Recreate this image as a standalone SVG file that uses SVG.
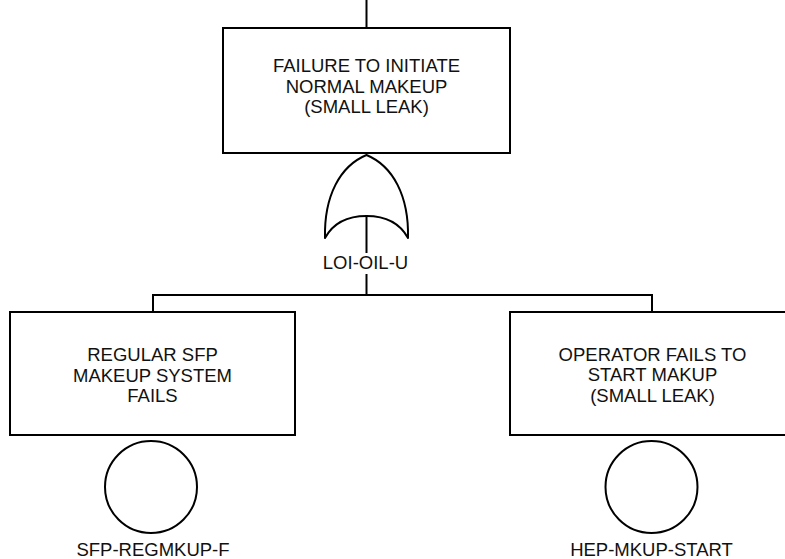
<svg xmlns="http://www.w3.org/2000/svg" width="785" height="559" viewBox="0 0 785 559">
<style>
.box{fill:#fff;stroke:#000;stroke-width:2}
.ln{fill:none;stroke:#000;stroke-width:2}
.gate{fill:#fff;stroke:#000;stroke-width:2;stroke-linejoin:round}
.t{font-family:"Liberation Sans",Arial,sans-serif;font-size:18.5px;fill:#111;text-anchor:middle}
</style>
<rect width="785" height="559" fill="#fff"/>
<g id="connectors">
<line class="ln" x1="366.5" y1="0" x2="366.5" y2="28"/>
<line class="ln" x1="366.5" y1="216" x2="366.5" y2="295"/>
<polyline class="ln" points="153,312 153,295 652,295 652,312"/>
</g>
<g id="top-event">
<rect class="box" x="223" y="28" width="287" height="125"/>
<text class="t" x="366.5" y="72">FAILURE TO INITIATE</text>
<text class="t" x="366.5" y="92.5">NORMAL MAKEUP</text>
<text class="t" x="366.5" y="113">(SMALL LEAK)</text>
</g>
<g id="gate-LOI-OIL-U">
<path class="gate" d="M325,238 C324,196 340,166 366.5,155 C393,166 409,196 408,238 Q396,216 366.5,216 Q337,216 325,238 Z"/>
<rect x="322" y="253" width="89" height="21" fill="#fff"/>
<text class="t" x="365.5" y="269">LOI-OIL-U</text>
</g>
<g id="event-SFP-REGMKUP-F">
<rect class="box" x="10" y="312" width="285" height="123"/>
<text class="t" x="152.5" y="361">REGULAR SFP</text>
<text class="t" x="152.5" y="381.5">MAKEUP SYSTEM</text>
<text class="t" x="152.5" y="402">FAILS</text>
<circle class="ln" cx="151" cy="487" r="46"/>
<text class="t" x="153" y="556">SFP-REGMKUP-F</text>
</g>
<g id="event-HEP-MKUP-START">
<rect class="box" x="510" y="312" width="285" height="123"/>
<text class="t" x="652.5" y="360.5">OPERATOR FAILS TO</text>
<text class="t" x="652.5" y="381">START MAKUP</text>
<text class="t" x="652.5" y="401.5">(SMALL LEAK)</text>
<circle class="ln" cx="651.5" cy="487" r="46"/>
<text class="t" x="651.5" y="556">HEP-MKUP-START</text>
</g>
</svg>
